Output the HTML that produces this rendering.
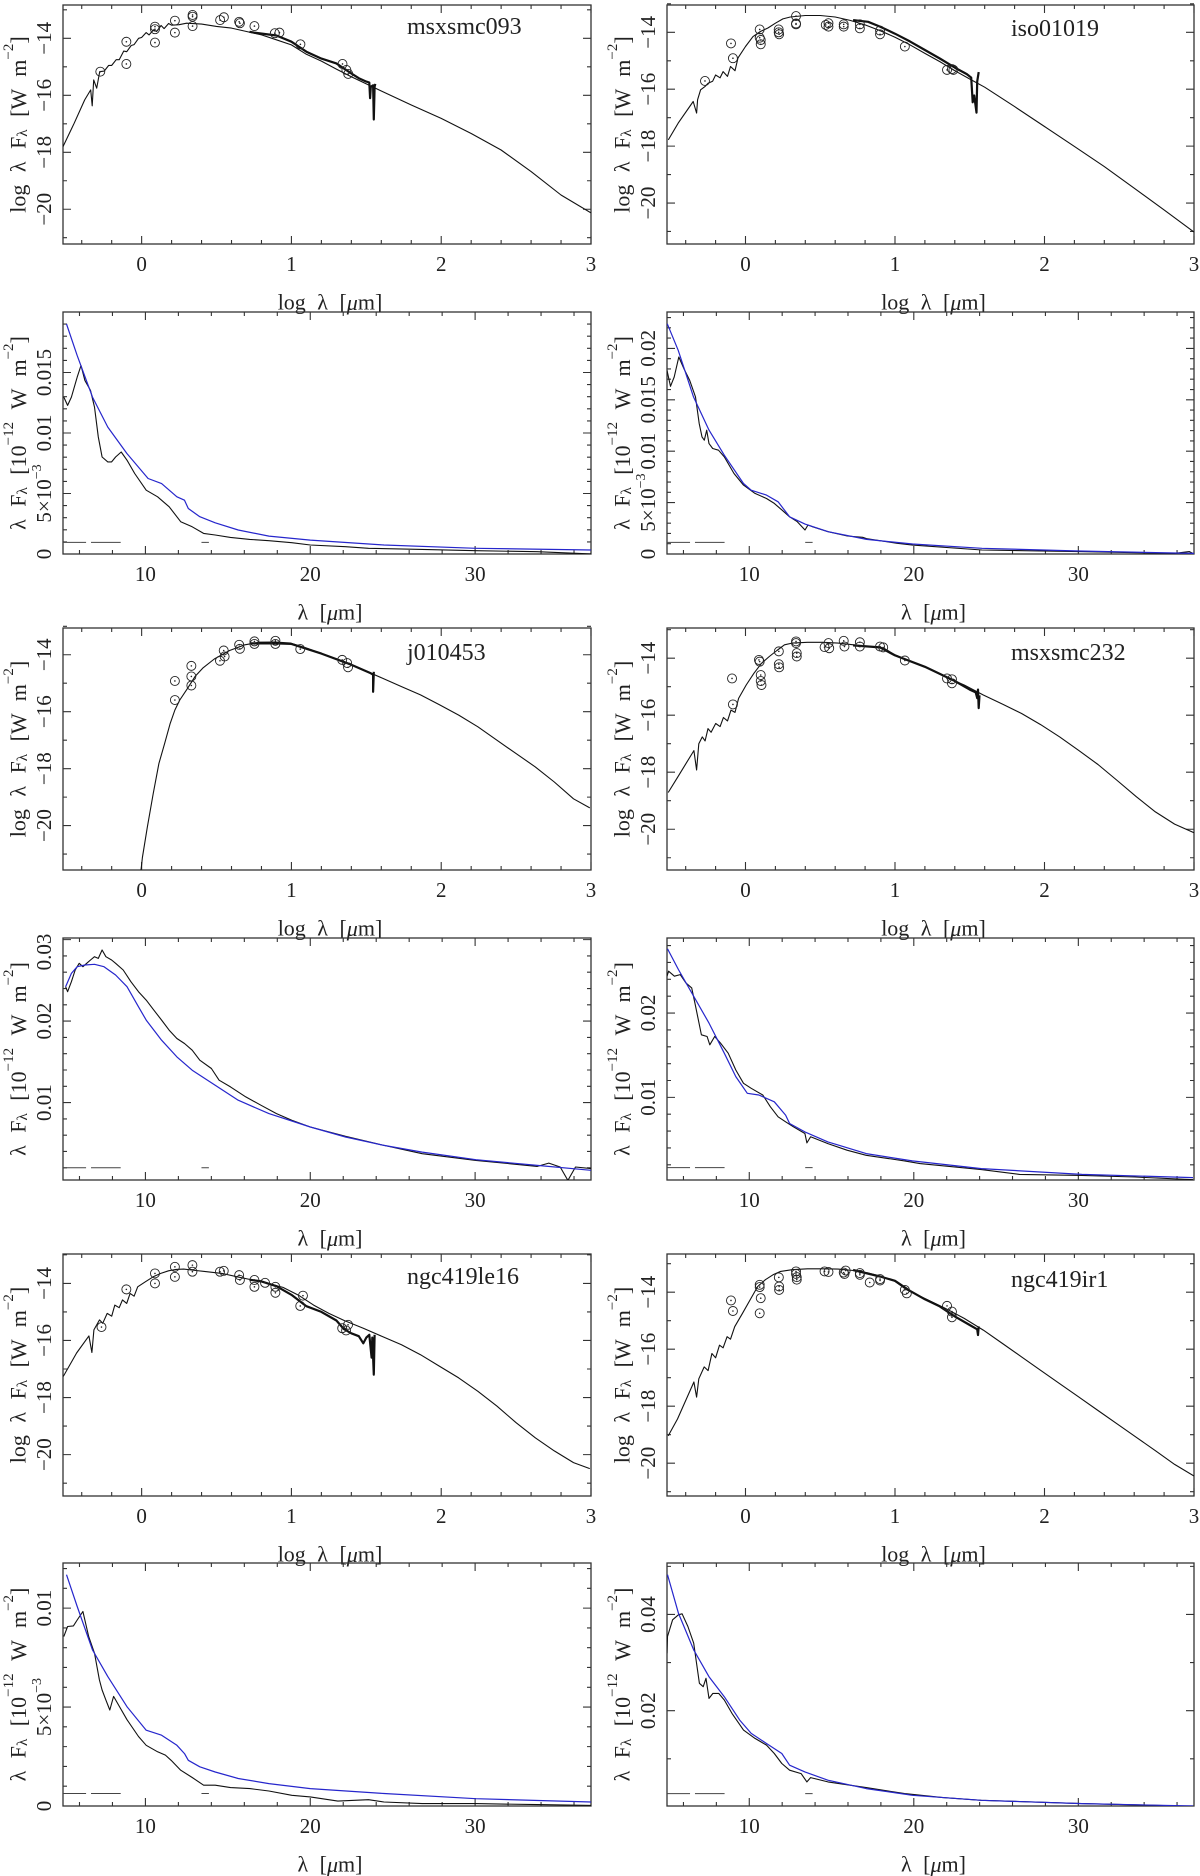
<!DOCTYPE html>
<html><head><meta charset="utf-8"><title>SED fits</title>
<style>
html,body{margin:0;padding:0;background:#fff;}
svg{display:block;font-family:"Liberation Serif","DejaVu Serif",serif;}
</style></head>
<body>
<svg id="fig" xmlns="http://www.w3.org/2000/svg" width="1200" height="1876" viewBox="0 0 1200 1876"></svg>
<script>
// ===== SED panels (log lambda vs log lambda F_lambda) =====
const sed1ModelX=[-0.525,-0.45,-0.38,-0.34,-0.33,-0.32,-0.30,-0.28,-0.25,-0.22,-0.2,-0.17,-0.15,-0.12,-0.1,-0.07,-0.05,-0.02,0,0.03,0.05,0.08,0.1,0.13,0.15,0.18,0.2,0.25,0.3,0.4,0.5,0.6,0.7,0.8,0.9,1.0,1.1,1.2,1.3,1.4,1.5,1.6,1.8,2.0,2.2,2.4,2.6,2.8,3.0];
const sed1ModelY=[-17.80,-16.98,-16.16,-15.81,-16.37,-15.46,-15.75,-15.17,-15.15,-14.95,-14.95,-14.75,-14.75,-14.45,-14.47,-14.25,-14.22,-14.0,-13.97,-13.8,-13.88,-13.7,-13.76,-13.55,-13.66,-13.48,-13.54,-13.52,-13.47,-13.5,-13.58,-13.64,-13.76,-13.88,-14.05,-14.23,-14.56,-14.8,-15.08,-15.35,-15.6,-15.85,-16.34,-16.81,-17.34,-17.92,-18.68,-19.5,-20.13];
const sed1SpecX=[0.72,0.75,0.9,1.0,1.1,1.2,1.3,1.4,1.45,1.5,1.52,1.525,1.53,1.545,1.55,1.555,1.56];
const sed1SpecY=[-13.77,-13.8,-13.9,-14.12,-14.47,-14.71,-14.88,-15.23,-15.4,-15.52,-15.55,-16.1,-15.7,-15.65,-16.85,-15.7,-15.6];
const sed1PhotX=[-0.102,-0.102,-0.276,0.089,0.089,0.089,0.222,0.222,0.340,0.340,0.340,0.524,0.549,0.651,0.656,0.753,0.889,0.920,1.06,1.341,1.367,1.379];
const sed1PhotY=[-14.12,-14.90,-15.17,-13.59,-13.68,-14.15,-13.38,-13.80,-13.18,-13.24,-13.57,-13.36,-13.26,-13.42,-13.47,-13.57,-13.82,-13.80,-14.21,-14.90,-15.11,-15.25];

const sed2ModelX=[-0.516,-0.45,-0.35,-0.327,-0.32,-0.3,-0.27,-0.25,-0.22,-0.2,-0.17,-0.15,-0.12,-0.1,-0.07,-0.05,0,0.05,0.1,0.15,0.2,0.25,0.3,0.4,0.5,0.6,0.7,0.8,0.9,1.0,1.1,1.2,1.3,1.4,1.5,1.6,1.8,2.0,2.2,2.4,2.6,2.8,3.0];
const sed2ModelY=[-17.78,-17.19,-16.43,-16.84,-16.37,-16.02,-15.9,-15.79,-15.72,-15.5,-15.6,-15.38,-15.55,-15.2,-15.35,-14.9,-14.5,-14.15,-13.97,-13.85,-13.68,-13.53,-13.46,-13.41,-13.41,-13.46,-13.58,-13.74,-13.94,-14.17,-14.44,-14.74,-15.03,-15.35,-15.64,-15.93,-16.61,-17.31,-18.01,-18.72,-19.48,-20.24,-21.02];
const sed2SpecX=[0.72,0.82,0.9,1.0,1.1,1.2,1.3,1.4,1.48,1.51,1.52,1.53,1.545,1.55,1.56];
const sed2SpecY=[-13.57,-13.63,-13.8,-14.05,-14.32,-14.62,-14.92,-15.24,-15.47,-15.59,-16.46,-16.22,-16.82,-15.73,-15.4];
const sed2PhotX=[-0.271,-0.097,-0.084,0.095,0.095,0.102,0.102,0.222,0.222,0.225,0.338,0.338,0.338,0.537,0.555,0.555,0.657,0.657,0.765,0.765,0.900,0.900,1.066,1.348,1.381,1.391];
const sed2PhotY=[-15.71,-14.39,-14.91,-13.90,-14.19,-14.27,-14.42,-13.90,-14.0,-14.07,-13.43,-13.69,-13.72,-13.74,-13.68,-13.80,-13.72,-13.80,-13.72,-13.86,-13.94,-14.07,-14.50,-15.32,-15.29,-15.32];

const sed3ModelX=[-0.005,0.005,0.038,0.077,0.115,0.153,0.191,0.222,0.255,0.306,0.357,0.408,0.485,0.587,0.689,0.791,0.893,0.995,1.097,1.224,1.352,1.480,1.607,1.735,1.862,1.990,2.117,2.245,2.372,2.5,2.628,2.755,2.883,2.992];
const sed3ModelY=[-21.6,-21.12,-20.06,-18.88,-17.82,-17.12,-16.41,-15.94,-15.59,-15.18,-14.76,-14.47,-14.15,-13.85,-13.65,-13.56,-13.55,-13.59,-13.76,-14.0,-14.24,-14.53,-14.82,-15.12,-15.41,-15.76,-16.12,-16.53,-17.0,-17.47,-17.94,-18.47,-19.06,-19.38];
const sed3SpecX=[0.72,0.9,1.0,1.2,1.4,1.53,1.545,1.545,1.55];
const sed3SpecY=[-13.6,-13.6,-13.62,-13.96,-14.35,-14.65,-14.7,-15.3,-14.6];
const sed3PhotX=[0.222,0.222,0.332,0.332,0.332,0.523,0.548,0.554,0.651,0.656,0.753,0.753,0.893,0.893,1.059,1.339,1.372,1.378];
const sed3PhotY=[-14.92,-15.59,-14.39,-14.76,-15.08,-14.21,-13.85,-14.06,-13.65,-13.79,-13.53,-13.62,-13.51,-13.62,-13.80,-14.18,-14.29,-14.44];

const sed4ModelX=[-0.517,-0.455,-0.345,-0.327,-0.312,-0.289,-0.27,-0.251,-0.23,-0.199,-0.17,-0.148,-0.12,-0.097,-0.07,-0.046,0.005,0.056,0.107,0.159,0.210,0.261,0.312,0.414,0.517,0.619,0.721,0.824,0.926,1.0,1.079,1.207,1.335,1.463,1.591,1.719,1.847,1.974,2.102,2.230,2.358,2.486,2.614,2.742,2.870,3.0];
const sed4ModelY=[-18.71,-18.18,-17.24,-17.92,-17.0,-16.76,-16.9,-16.47,-16.6,-16.29,-16.4,-16.08,-16.2,-15.82,-15.9,-15.41,-14.94,-14.53,-14.18,-13.94,-13.73,-13.53,-13.47,-13.44,-13.44,-13.47,-13.53,-13.59,-13.65,-13.88,-14.06,-14.32,-14.65,-14.94,-15.29,-15.61,-15.94,-16.33,-16.76,-17.24,-17.73,-18.29,-18.86,-19.39,-19.82,-20.12];
const sed4SpecX=[0.72,0.9,1.0,1.2,1.4,1.5,1.54,1.55,1.555,1.56,1.565];
const sed4SpecY=[-13.55,-13.62,-13.9,-14.3,-14.8,-15.1,-15.2,-15.4,-15.1,-15.75,-15.3];
const sed4PhotX=[-0.090,-0.084,0.090,0.095,0.102,0.102,0.107,0.223,0.223,0.225,0.338,0.338,0.343,0.343,0.529,0.555,0.560,0.657,0.662,0.765,0.765,0.900,0.921,1.066,1.348,1.381,1.381];
const sed4PhotY=[-14.71,-15.62,-14.06,-14.12,-14.59,-14.80,-14.94,-13.76,-14.21,-14.32,-13.41,-13.47,-13.82,-13.94,-13.61,-13.47,-13.65,-13.39,-13.59,-13.44,-13.59,-13.59,-13.62,-14.08,-14.71,-14.74,-14.88];

const sed5ModelX=[-0.523,-0.434,-0.352,-0.332,-0.319,-0.281,-0.26,-0.230,-0.2,-0.179,-0.15,-0.128,-0.1,-0.077,-0.05,-0.026,0.026,0.077,0.128,0.179,0.230,0.281,0.332,0.434,0.536,0.638,0.740,0.842,0.944,1.046,1.148,1.25,1.352,1.480,1.607,1.735,1.862,1.990,2.117,2.245,2.372,2.5,2.628,2.755,2.883,2.992];
const sed5ModelY=[-17.26,-16.44,-15.84,-16.42,-15.63,-15.28,-15.4,-15.05,-15.15,-14.76,-14.85,-14.58,-14.7,-14.35,-14.45,-14.12,-13.94,-13.77,-13.65,-13.56,-13.51,-13.5,-13.53,-13.59,-13.65,-13.77,-13.88,-14.0,-14.14,-14.41,-14.76,-15.05,-15.30,-15.57,-15.86,-16.15,-16.5,-16.91,-17.31,-17.78,-18.30,-18.88,-19.41,-19.87,-20.28,-20.49];
const sed5SpecX=[0.72,0.8,0.9,1.0,1.1,1.2,1.3,1.35,1.4,1.45,1.48,1.5,1.52,1.535,1.54,1.55,1.555];
const sed5SpecY=[-13.87,-13.93,-14.1,-14.4,-14.8,-15.0,-15.3,-15.6,-15.75,-15.85,-16.1,-15.9,-15.8,-16.6,-15.9,-17.2,-15.8];
const sed5PhotX=[-0.268,-0.102,0.089,0.089,0.222,0.222,0.339,0.339,0.523,0.548,0.651,0.656,0.753,0.753,0.824,0.893,0.893,1.059,1.077,1.339,1.365,1.378];
const sed5PhotY=[-15.53,-14.21,-13.65,-14.0,-13.42,-13.77,-13.36,-13.59,-13.59,-13.56,-13.71,-13.88,-13.88,-14.12,-13.98,-14.12,-14.33,-14.79,-14.43,-15.57,-15.65,-15.45];

const sed6ModelX=[-0.517,-0.455,-0.345,-0.327,-0.312,-0.276,-0.25,-0.225,-0.2,-0.174,-0.15,-0.123,-0.1,-0.072,-0.02,0.031,0.082,0.133,0.184,0.235,0.312,0.414,0.517,0.619,0.721,0.824,0.926,1.0,1.079,1.207,1.335,1.463,1.591,1.719,1.847,1.974,2.102,2.230,2.358,2.486,2.614,2.742,2.870,3.0];
const sed6ModelY=[-19.04,-18.45,-17.15,-17.68,-17.04,-16.62,-16.75,-16.15,-16.3,-15.86,-15.95,-15.56,-15.65,-15.21,-14.74,-14.27,-13.80,-13.56,-13.39,-13.27,-13.21,-13.18,-13.18,-13.19,-13.24,-13.33,-13.47,-13.62,-13.92,-14.24,-14.56,-14.92,-15.33,-15.8,-16.27,-16.74,-17.21,-17.68,-18.15,-18.62,-19.09,-19.56,-20.04,-20.45];
const sed6SpecX=[0.72,0.9,1.0,1.1,1.2,1.3,1.4,1.5,1.55,1.555,1.56];
const sed6SpecY=[-13.22,-13.45,-13.6,-13.95,-14.25,-14.5,-14.85,-15.15,-15.3,-15.5,-15.2];
const sed6PhotX=[-0.097,-0.084,0.095,0.095,0.102,0.095,0.223,0.225,0.225,0.338,0.338,0.343,0.343,0.529,0.555,0.657,0.662,0.670,0.765,0.765,0.831,0.900,0.900,1.066,1.079,1.348,1.381,1.381];
const sed6PhotY=[-14.29,-14.66,-13.74,-13.82,-14.21,-14.74,-13.48,-13.80,-13.92,-13.27,-13.36,-13.47,-13.56,-13.27,-13.29,-13.31,-13.36,-13.24,-13.33,-13.39,-13.66,-13.54,-13.59,-13.92,-14.04,-14.48,-14.68,-14.88];

// ===== Spectrum panels (lambda vs lambda F_lambda) =====
const spec1ModelX=[5.21,5.86,6.79,7.72,8.88,10.16,10.98,11.91,12.37,12.60,13.30,14.23,15.63,17.49,20.0,24.47,30.05,37.1];
const spec1ModelY=[0.01901,0.0164,0.01297,0.01049,0.0083,0.00624,0.00582,0.00473,0.00445,0.00376,0.00308,0.00258,0.00198,0.00148,0.00115,0.00074,0.00047,0.00033];
const spec1ObsX=[5.05,5.28,5.51,5.86,6.09,6.33,6.67,6.91,7.14,7.37,7.72,7.95,8.19,8.53,8.88,9.35,10.05,10.74,11.44,12.14,12.84,13.53,14.23,15.16,16.33,17.49,18.88,20.0,22.14,23.53,26.79,30.05,33.77,37.1];
const spec1ObsY=[0.01297,0.01228,0.01297,0.01462,0.01558,0.01434,0.01352,0.01214,0.00967,0.00802,0.00761,0.00761,0.00802,0.00843,0.00775,0.00665,0.00527,0.00473,0.0039,0.00267,0.00225,0.0017,0.00157,0.00137,0.00121,0.0011,0.00093,0.00074,0.0006,0.00047,0.00038,0.00027,0.00019,0.0];
const spec1Level=[0.00096];

const spec2ModelX=[5.02,5.68,6.61,7.55,8.48,9.65,10.12,11.05,11.75,12.45,13.39,14.79,17.13,19.93,24.14,30.02,37.03];
const spec2ModelY=[0.02239,0.01981,0.01528,0.01205,0.00961,0.00686,0.00621,0.00573,0.00508,0.00362,0.00291,0.00217,0.00142,0.00097,0.00055,0.00029,0.00006];
const spec2ObsX=[5.0,5.21,5.44,5.72,6.03,6.38,6.73,6.96,7.13,7.27,7.41,7.55,7.78,8.13,8.48,9.07,9.65,10.35,11.05,11.52,11.99,12.45,12.92,13.39,13.57,13.86,14.79,15.96,16.89,17.13,19.0,19.93,24.14,30.02,35.82,36.75,37.03];
const spec2ObsY=[0.01786,0.01631,0.01722,0.01916,0.01803,0.01689,0.01528,0.01269,0.01139,0.01107,0.01204,0.01074,0.01026,0.0101,0.00945,0.00783,0.0067,0.00589,0.0054,0.00492,0.00427,0.00362,0.00314,0.00233,0.00282,0.00265,0.00217,0.00175,0.00162,0.00149,0.00104,0.00087,0.00039,0.00023,0.00006,0.00023,0.0];
const spec2Level=[0.00113];

const spec3ModelX=[5.16,5.51,5.86,6.33,6.91,7.49,8.19,8.88,9.58,10.05,10.98,11.91,12.84,14.23,15.63,17.49,20.0,22.14,24.47,26.79,30.05,33.77,37.1];
const spec3ModelY=[0.02422,0.02586,0.02668,0.02689,0.02697,0.02668,0.02566,0.02422,0.02176,0.02012,0.01766,0.01561,0.01398,0.01213,0.01029,0.00865,0.00701,0.00578,0.00475,0.00393,0.00299,0.00229,0.00168];
const spec3ObsX=[5.16,5.28,5.51,5.74,5.98,6.21,6.44,6.67,6.91,7.14,7.37,7.60,7.95,8.19,8.65,9.12,9.58,10.05,10.51,10.98,11.44,11.91,12.37,12.84,13.30,14.0,14.47,15.16,16.09,17.02,17.95,18.88,20.0,22.14,24.47,26.79,30.05,33.77,34.47,35.16,35.63,36.09,37.1];
const spec3ObsY=[0.02422,0.02361,0.02484,0.02627,0.02709,0.02668,0.02709,0.0275,0.02791,0.0277,0.02873,0.02791,0.0275,0.02709,0.02627,0.02484,0.02361,0.02258,0.02135,0.02012,0.01889,0.01787,0.01725,0.01643,0.0152,0.01418,0.01275,0.01193,0.0107,0.00967,0.00865,0.00783,0.00701,0.00586,0.00475,0.00373,0.00291,0.00217,0.00258,0.00209,0.00045,0.00209,0.00189];
const spec3Level=[0.0020];

const spec4ModelX=[5.03,5.69,6.62,7.55,8.48,9.18,9.88,10.58,11.52,12.21,12.45,13.38,14.78,17.11,19.91,24.10,30.21,36.97];
const spec4ModelY=[0.02762,0.02516,0.02198,0.01881,0.01524,0.01246,0.01048,0.01028,0.00948,0.0079,0.0069,0.00591,0.00472,0.00333,0.00246,0.00155,0.00087,0.00048];
const spec4ObsX=[5.0,5.10,5.45,5.80,6.15,6.50,6.74,7.09,7.44,7.60,7.90,8.25,8.72,9.18,9.65,10.12,10.82,11.28,11.75,12.21,12.68,13.38,13.50,13.73,14.78,15.94,17.11,19.44,20.37,24.10,26.43,30.21,33.43,36.97];
const spec4ObsY=[0.02437,0.02496,0.02437,0.02456,0.02357,0.02298,0.02079,0.01742,0.01722,0.01623,0.01722,0.01643,0.01524,0.01325,0.01167,0.01107,0.01028,0.00889,0.0077,0.0071,0.00651,0.00571,0.0046,0.00532,0.00452,0.00373,0.00313,0.00246,0.00214,0.00143,0.00087,0.00075,0.00056,0.00024];
const spec4Level=[0.00167];

const spec5ModelX=[5.21,5.86,6.79,7.72,8.88,10.05,10.98,11.91,12.37,12.60,13.30,14.23,15.63,17.49,20.0,24.47,30.05,37.1];
const spec5ModelY=[0.01169,0.01008,0.00789,0.00654,0.00502,0.00383,0.00358,0.00307,0.00265,0.00231,0.00198,0.00172,0.00139,0.00113,0.00088,0.00063,0.00037,0.0002];
const spec5ObsX=[5.05,5.28,5.63,5.86,6.21,6.56,6.91,7.21,7.37,7.60,7.84,8.07,8.42,8.88,9.58,10.05,10.74,11.21,11.56,12.14,12.84,13.53,14.23,15.16,16.33,17.49,18.88,20.0,21.67,23.53,24.47,26.79,30.05,33.77,37.1];
const spec5ObsY=[0.00856,0.00907,0.0091,0.0094,0.00983,0.00856,0.00772,0.00637,0.00586,0.00535,0.00485,0.00554,0.00503,0.00436,0.00351,0.00307,0.00274,0.00257,0.00231,0.00181,0.00144,0.00105,0.00105,0.00093,0.00088,0.00076,0.00054,0.00046,0.00025,0.00032,0.0002,0.00012,0.00012,0.00007,0.00003];
const spec5Level=[0.00063];

const spec6ModelX=[5.03,5.69,6.62,7.55,8.48,9.42,10.12,11.05,11.98,12.45,13.38,14.78,17.11,19.91,24.10,30.21,36.97];
const spec6ModelY=[0.04826,0.04028,0.03264,0.02708,0.02292,0.01806,0.01528,0.01319,0.01111,0.00868,0.00729,0.00556,0.00382,0.00243,0.00139,0.00069,0.00021];
const spec6ObsX=[5.0,5.03,5.34,5.69,5.92,6.27,6.62,6.97,7.20,7.37,7.55,7.79,8.14,8.48,8.95,9.65,10.35,11.05,11.52,11.98,12.45,13.15,13.50,13.73,14.78,17.11,19.44,21.77,24.10,30.21,36.97];
const spec6ObsY=[0.03194,0.03542,0.03889,0.03993,0.04014,0.0375,0.03403,0.02569,0.025,0.02674,0.02257,0.02361,0.02361,0.02222,0.01944,0.01597,0.01424,0.01285,0.01111,0.00903,0.00764,0.00694,0.00521,0.00611,0.00521,0.00403,0.00278,0.00194,0.00139,0.00069,0.00014];
const spec6Level=[0.00278];

const sedTickLabels=["−14","−16","−18","−20"];
const sedTickValues=[-14,-16,-18,-20];
const sedXTickLabels=["0","1","2","3"];
const specXTickLabels=["10","20","30"];

const NS="http://www.w3.org/2000/svg";
const svg=document.getElementById('fig');
function mk(tag,parent){const e=document.createElementNS(NS,tag);parent.appendChild(e);return e;}

const L={x0:63,x1:591}, R={x0:667,x1:1194};
const rows=[[5,244],[312,554],[628,870],[938,1180],[1254,1496],[1563,1806]];

function frameAndTicks(g,c,sx,sy){
  const fr=mk('rect',g);
  
  
  fr.setAttribute('x',c.x0);fr.setAttribute('y',c.y0);
  fr.setAttribute('width',c.x1-c.x0);fr.setAttribute('height',c.y1-c.y0);
  fr.setAttribute('fill','none');fr.setAttribute('stroke','#333');fr.setAttribute('stroke-width','1.3');
  let d='';
  const nx=Math.round((c.xTickEnd-c.xTickStart)/c.xMinor);
  for(let i=0;i<=nx;i++){
    const v=c.xTickStart+i*c.xMinor;const x=sx(v);
    const maj=Math.abs(v/c.xMajor-Math.round(v/c.xMajor))<1e-6;const len=maj?8:4;
    d+=`M${x} ${c.y1}v${-len}M${x} ${c.y0}v${len}`;
  }
  const ny=Math.round((c.yTickEnd-c.yTickStart)/c.yMinor);
  for(let i=0;i<=ny;i++){
    const v=c.yTickStart+i*c.yMinor;const y=sy(v);
    const maj=Math.abs(v/c.yMajor-Math.round(v/c.yMajor))<1e-6;const len=maj?8:4;
    d+=`M${c.x0} ${y}h${len}M${c.x1} ${y}h${-len}`;
  }
  const tk=mk('path',g);
  
  
  tk.setAttribute('d',d);tk.setAttribute('stroke','#333');tk.setAttribute('stroke-width','1.1');tk.setAttribute('fill','none');
}
function xTickLabels(g,c,sx,vals,labels){
  vals.forEach((v,i)=>{
    const t=mk('text',g);
    
    
    t.setAttribute('x',sx(v));t.setAttribute('y',c.y1+20);
    t.setAttribute('text-anchor','middle');t.setAttribute('dominant-baseline','central');
    t.setAttribute('font-size','21');t.setAttribute('fill','#222');
    t.textContent=labels[i];
  });
}
function yTickLabel(g,c,y,html){
  const x=c.x0-19;
  const t=mk('text',g);
  
  
  t.setAttribute('x',x);t.setAttribute('y',y);
  t.setAttribute('text-anchor','middle');t.setAttribute('dominant-baseline','central');
  t.setAttribute('font-size','21');t.setAttribute('fill','#222');
  t.setAttribute('transform',`rotate(-90 ${x} ${y})`);
  t.innerHTML=html;
}
function axisTitles(g,c,xHtml,yHtml){
  const xt=mk('text',g);
  
  
  xt.setAttribute('x',(c.x0+c.x1)/2+3);xt.setAttribute('y',c.y1+58);
  xt.setAttribute('text-anchor','middle');xt.setAttribute('dominant-baseline','central');
  xt.setAttribute('font-size','22');xt.setAttribute('fill','#222');xt.setAttribute('word-spacing','6');
  xt.innerHTML=xHtml;
  const yx=c.x0-45,yy=(c.y0+c.y1)/2;
  const yt=mk('text',g);
  
  
  yt.setAttribute('x',yx);yt.setAttribute('y',yy);
  yt.setAttribute('text-anchor','middle');yt.setAttribute('dominant-baseline','central');
  yt.setAttribute('font-size','22');yt.setAttribute('fill','#222');yt.setAttribute('word-spacing','7');
  yt.setAttribute('transform',`rotate(-90 ${yx} ${yy})`);
  yt.innerHTML=yHtml;
}
function clip(g,c,id){
  const cp=mk('clipPath',g);cp.setAttribute('id',id);
  const r=mk('rect',cp);r.setAttribute('x',c.x0);r.setAttribute('y',c.y0);
  r.setAttribute('width',c.x1-c.x0);r.setAttribute('height',c.y1-c.y0);
}
function line(g,xs,ys,sx,sy,color,w,id,name){
  const p=mk('polyline',g);
  
  
  p.setAttribute('points',xs.map((x,i)=>sx(x).toFixed(1)+','+sy(ys[i]).toFixed(1)).join(' '));
  p.setAttribute('fill','none');p.setAttribute('stroke',color);p.setAttribute('stroke-width',w);
  p.setAttribute('stroke-linejoin','round');p.setAttribute('clip-path',`url(#${id})`);
}

const YT_SED='log λ F<tspan font-size="15" dy="5">λ</tspan><tspan dy="-5"> [W m</tspan><tspan font-size="15" dy="-9">−2</tspan><tspan dy="9">]</tspan>';
const YT_SPEC='λ F<tspan font-size="15" dy="5">λ</tspan><tspan dy="-5"> [10</tspan><tspan font-size="15" dy="-9">−12</tspan><tspan dy="9"> W m</tspan><tspan font-size="15" dy="-9">−2</tspan><tspan dy="9">]</tspan>';
const XT_SED='log λ [<tspan font-style="italic">μ</tspan>m]';
const XT_SPEC='λ [<tspan font-style="italic">μ</tspan>m]';

function sedPanel(col,row,ymin,ymax,name,labelX,labelDy,mx,my,spx,spy,phx,phy,idx){
  const c={x0:col.x0,x1:col.x1,y0:rows[row][0],y1:rows[row][1],xmin:-0.525,xmax:3.0,ymin:ymin,ymax:ymax,
    xTickStart:-0.4,xTickEnd:3.0,xMinor:0.2,xMajor:1,yTickStart:-21,yTickEnd:-13,yMinor:1,yMajor:2};
  const g=mk('g',svg);
  
  
  const sx=v=>c.x0+(v-c.xmin)/(c.xmax-c.xmin)*(c.x1-c.x0);
  const sy=v=>c.y1-(v-c.ymin)/(c.ymax-c.ymin)*(c.y1-c.y0);
  const id='clipsed'+idx;clip(g,c,id);
  frameAndTicks(g,c,sx,sy);
  xTickLabels(g,c,sx,[0,1,2,3],sedXTickLabels);
  sedTickValues.forEach((v,i)=>yTickLabel(g,c,sy(v),sedTickLabels[i]));
  axisTitles(g,c,XT_SED,YT_SED);
  line(g,mx,my,sx,sy,'#111','1.1',id,'model-sed-line');
  line(g,spx,spy,sx,sy,'#111','2.2',id,'irs-spectrum-line');
  phx.forEach((x,i)=>{
    const cc=mk('circle',g);
    
    
    cc.setAttribute('cx',sx(x));cc.setAttribute('cy',sy(phy[i]));cc.setAttribute('r','4.5');
    cc.setAttribute('fill','none');cc.setAttribute('stroke','#222');cc.setAttribute('stroke-width','0.9');
    const dt=mk('circle',g);
    
    
    dt.setAttribute('cx',sx(x));dt.setAttribute('cy',sy(phy[i]));dt.setAttribute('r','0.8');dt.setAttribute('fill','#222');
  });
  const t=mk('text',g);
  
  
  t.setAttribute('x',labelX);t.setAttribute('y',c.y0+labelDy);
  t.setAttribute('font-size','24');t.setAttribute('fill','#222');t.setAttribute('dominant-baseline','central');
  t.textContent=name;
}

function specPanel(col,row,ymin,ymax,yMinor,yMajor,tickVals,tickHtml,mx,my,ox,oy,level,idx){
  const c={x0:col.x0,x1:col.x1,y0:rows[row][0],y1:rows[row][1],xmin:5,xmax:37.03,ymin:ymin,ymax:ymax,
    xTickStart:6,xTickEnd:36,xMinor:2,xMajor:10,yTickStart:Math.ceil(ymin/yMinor-1e-6)*yMinor,yTickEnd:Math.floor(ymax/yMinor+1e-6)*yMinor,yMinor:yMinor,yMajor:yMajor};
  const g=mk('g',svg);
  
  
  const sx=v=>c.x0+(v-c.xmin)/(c.xmax-c.xmin)*(c.x1-c.x0);
  const sy=v=>c.y1-(v-c.ymin)/(c.ymax-c.ymin)*(c.y1-c.y0);
  const id='clipspec'+idx;clip(g,c,id);
  frameAndTicks(g,c,sx,sy);
  xTickLabels(g,c,sx,[10,20,30],specXTickLabels);
  tickVals.forEach((v,i)=>yTickLabel(g,c,Math.max(sy(v),c.y0+14),tickHtml[i]));
  axisTitles(g,c,XT_SPEC,YT_SPEC);
  const dl=mk('path',g);
  
  
  const ly=sy(level[0]);
  dl.setAttribute('d',`M${sx(5)} ${ly}H${sx(6.4)}M${sx(6.7)} ${ly}H${sx(8.5)}M${sx(13.4)} ${ly}H${sx(13.85)}`);
  dl.setAttribute('stroke','#444');dl.setAttribute('stroke-width','1');
  line(g,ox,oy,sx,sy,'#111','1.1',id,'observed-spectrum-line');
  line(g,mx,my,sx,sy,'#2626cc','1.2',id,'model-spectrum-line');
}

const SM='5×10<tspan font-size="14" dy="-7">−3</tspan>';
sedPanel(L,0,-21.22,-12.83,'msxsmc093',407,22,sed1ModelX,sed1ModelY,sed1SpecX,sed1SpecY,sed1PhotX,sed1PhotY,1);
sedPanel(R,0,-21.44,-13.04,'iso01019',1011,24,sed2ModelX,sed2ModelY,sed2SpecX,sed2SpecY,sed2PhotX,sed2PhotY,2);
specPanel(L,1,0,0.02,0.001,0.005,[0,0.005,0.01,0.015],['0',SM,'0.01','0.015'],spec1ModelX,spec1ModelY,spec1ObsX,spec1ObsY,spec1Level,1);
specPanel(R,1,0,0.02354,0.001,0.005,[0,0.005,0.01,0.015,0.02],['0',SM,'0.01','0.015','0.02'],spec2ModelX,spec2ModelY,spec2ObsX,spec2ObsY,spec2Level,2);
sedPanel(L,2,-21.56,-13.06,'j010453',407,25,sed3ModelX,sed3ModelY,sed3SpecX,sed3SpecY,sed3PhotX,sed3PhotY,3);
sedPanel(R,2,-21.43,-12.94,'msxsmc232',1011,25,sed4ModelX,sed4ModelY,sed4SpecX,sed4SpecY,sed4PhotX,sed4PhotY,4);
specPanel(L,3,0.0005,0.0302,0.002,0.01,[0.01,0.02,0.03],['0.01','0.02','0.03'],spec3ModelX,spec3ModelY,spec3ObsX,spec3ObsY,spec3Level,3);
specPanel(R,3,0.0002,0.0289,0.002,0.01,[0.01,0.02],['0.01','0.02'],spec4ModelX,spec4ModelY,spec4ObsX,spec4ObsY,spec4Level,4);
sedPanel(L,4,-21.45,-12.97,'ngc419le16',407,23,sed5ModelX,sed5ModelY,sed5SpecX,sed5SpecY,sed5PhotX,sed5PhotY,5);
sedPanel(R,4,-21.15,-12.66,'ngc419ir1',1011,26,sed6ModelX,sed6ModelY,sed6SpecX,sed6SpecY,sed6PhotX,sed6PhotY,6);
specPanel(L,5,0,0.01228,0.001,0.005,[0,0.005,0.01],['0',SM,'0.01'],spec5ModelX,spec5ModelY,spec5ObsX,spec5ObsY,spec5Level,5);
specPanel(R,5,0.0002,0.0507,0.01,0.02,[0.02,0.04],['0.02','0.04'],spec6ModelX,spec6ModelY,spec6ObsX,spec6ObsY,spec6Level,6);
</script>
</body></html>
